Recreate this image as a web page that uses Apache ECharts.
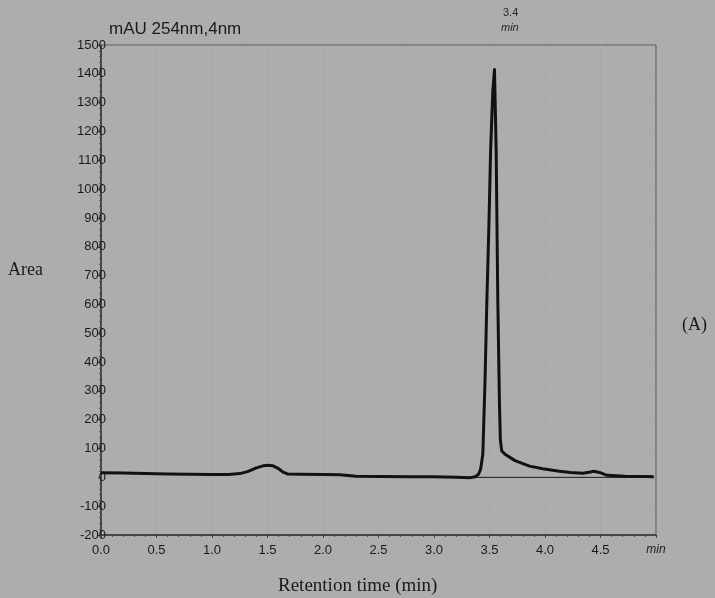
<!DOCTYPE html>
<html>
<head>
<meta charset="utf-8">
<script src="https://cdn.jsdelivr.net/npm/echarts@6/dist/echarts.min.js"></script>
<style>
  html, body { margin: 0; padding: 0; background: #adadad; }
  #chart { width: 715px; height: 598px; }
</style>
</head>
<body>
<div id="chart"></div>
<script>
// chromatogram trace (min, mAU)
const timeMin = [
  0.00, 0.20, 0.40, 0.60, 0.80, 1.00, 1.15, 1.25, 1.32, 1.40,
  1.46, 1.50, 1.55, 1.60, 1.64, 1.68, 1.80, 2.00, 2.15, 2.30,
  2.50, 2.80, 3.00, 3.20, 3.33, 3.37, 3.40, 3.42, 3.44, 3.46,
  3.476, 3.495, 3.51, 3.53, 3.545, 3.56, 3.575, 3.59, 3.598, 3.61,
  3.64, 3.73, 3.86, 3.98, 4.13, 4.23, 4.34, 4.40, 4.44, 4.49,
  4.56, 4.72, 4.90, 4.98
];
const signalMau = [
  16, 15, 13, 12, 11, 10, 10, 13, 20, 33,
  40, 42, 40, 30, 18, 12, 11, 10, 9, 4,
  3, 2, 2, 0, -1, 2, 10, 28, 81, 340,
  608, 880, 1135, 1340, 1415, 1135, 608, 250, 130, 92,
  80, 58, 39, 30, 21, 17, 14, 18, 21, 17,
  7, 4, 3, 2
];
// integration baseline drawn under the main peak
const baselineTime = [3.25, 4.98];
const baselineMau = [0, 0];

const peakLabel = "3.4";

const chart = echarts.init(document.getElementById("chart"), null, { renderer: "canvas" });

const sans = "Liberation Sans";
const serif = "Liberation Serif";
const ink = "#1a1a1a";

chart.setOption({
  backgroundColor: "#adadad",
  animation: false,
  title: {
    text: "mAU 254nm,4nm",
    left: 104,
    top: 16,
    textStyle: { fontFamily: sans, fontSize: 17, fontWeight: "normal", color: ink }
  },
  graphic: [
    {
      type: "text", left: 503, top: 7,
      style: { text: peakLabel, fontFamily: sans, fontSize: 11, fill: "#262626" }
    },
    {
      type: "text", left: 501, top: 22,
      style: { text: "min", fontFamily: sans, fontSize: 11, fontStyle: "italic", fill: "#262626" }
    },
    {
      type: "text", left: 8, top: 261,
      style: { text: "Area", fontFamily: serif, fontSize: 18, fill: ink }
    },
    {
      type: "text", left: 682, top: 316,
      style: { text: "(A)", fontFamily: serif, fontSize: 18, fill: ink }
    },
    {
      type: "text", left: 278, top: 577,
      style: { text: "Retention time (min)", fontFamily: serif, fontSize: 19, fill: ink }
    }
  ],
  grid: {
    left: 101, right: 59, top: 45, bottom: 63,
    show: true, borderColor: "#555", borderWidth: 1, backgroundColor: "transparent"
  },
  xAxis: {
    type: "value",
    min: 0,
    max: 5,
    interval: 0.5,
    axisLine: { show: true, onZero: false, lineStyle: { color: "#333", width: 1.5 } },
    axisTick: { show: true, length: 3, lineStyle: { color: "#444" } },
    minorTick: { show: true, splitNumber: 5, length: 2, lineStyle: { color: "#555" } },
    axisLabel: {
      fontFamily: sans, fontSize: 13, color: ink, margin: 9,
      formatter: (v) => (v === 5 ? "{i|min}" : v.toFixed(1)),
      rich: { i: { fontFamily: sans, fontSize: 12, fontStyle: "italic", color: ink } }
    },
    splitLine: { show: true, lineStyle: { color: "#9b9b9b", type: [1, 3], width: 1 } }
  },
  yAxis: {
    type: "value",
    min: -200,
    max: 1500,
    interval: 100,
    axisLine: { show: true, onZero: false, lineStyle: { color: "#333", width: 1.5 } },
    axisTick: { show: true, length: 3, lineStyle: { color: "#444" } },
    minorTick: { show: true, splitNumber: 5, length: 2, lineStyle: { color: "#555" } },
    axisLabel: {
      fontFamily: sans, fontSize: 13, color: ink, margin: -5,
      formatter: (v) => String(v)
    },
    splitLine: { show: true, lineStyle: { color: "#9e9e9e", type: [1, 3], width: 1 } }
  },
  series: [
    {
      name: "baseline",
      type: "line",
      showSymbol: false,
      data: baselineTime.map((t, i) => [t, baselineMau[i]]),
      lineStyle: { color: "#1a1a1a", width: 1 },
      z: 2
    },
    {
      name: "254nm",
      type: "line",
      showSymbol: false,
      smooth: false,
      data: timeMin.map((t, i) => [t, signalMau[i]]),
      lineStyle: { color: "#111", width: 3, join: "round" },
      z: 3
    }
  ]
});
</script>
</body>
</html>
